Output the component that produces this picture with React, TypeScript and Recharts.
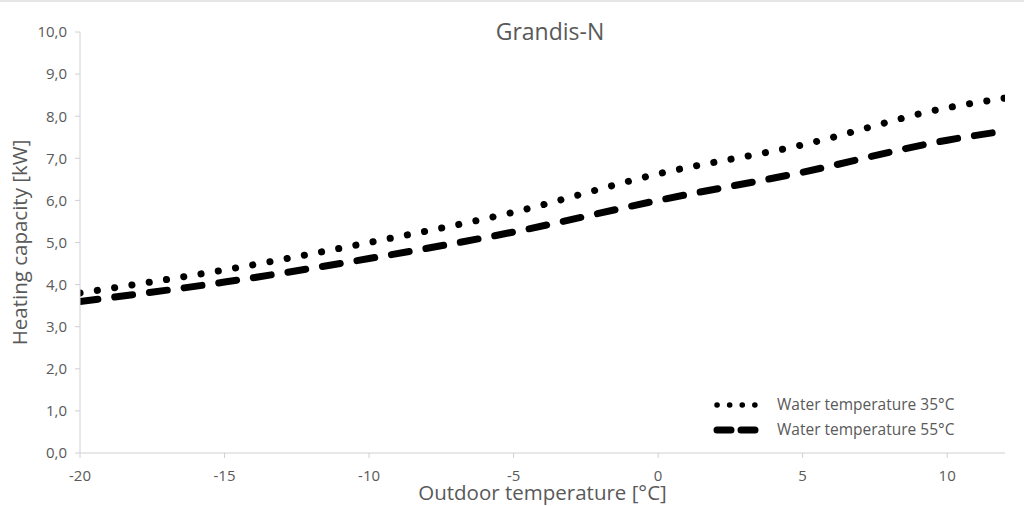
import React from "react";
import { LineChart, Line, XAxis, YAxis, Label } from "recharts";

// outdoor temperature [°C]
const outdoorTemps = [-20, -15, -10, -5, 0, 5, 10, 12];
// heating capacity [kW]
const water35 = [3.8, 4.35, 5.0, 5.72, 6.63, 7.32, 8.2, 8.43];
const water55 = [3.6, 4.06, 4.62, 5.25, 6.0, 6.67, 7.43, 7.65];

const xTicks = [-20, -15, -10, -5, 0, 5, 10];
const yTicks = [0, 1, 2, 3, 4, 5, 6, 7, 8, 9, 10];

const data = outdoorTemps.map((t, i) => ({
  t,
  w35: water35[i],
  w55: water55[i],
}));

const FONT = "'Open Sans', sans-serif";
const TEXT = "#595959";
const AXIS = "#d0d0d0";

const DOTTED = "0.1 17.4";
const DASHED = "18 17";

const LegendBox = () => (
  <div style={{ fontFamily: FONT, fontSize: 15.5, color: TEXT, lineHeight: "25px" }}>
    {[
      { label: "Water temperature 35°C", dotted: true },
      { label: "Water temperature 55°C", dotted: false },
    ].map((item) => (
      <div key={item.label} style={{ display: "flex", alignItems: "center" }}>
        <svg width={56} height={12} style={{ marginRight: 8 }}>
          <line
            x1={4}
            y1={6}
            x2={52}
            y2={6}
            stroke="#000"
            strokeWidth={item.dotted ? 5.5 : 7}
            strokeLinecap="round"
            strokeDasharray={item.dotted ? "0.1 12.5" : "14 10"}
          />
        </svg>
        <span>{item.label}</span>
      </div>
    ))}
  </div>
);

export default function App() {
  return (
    <div style={{ position: "absolute", left: 0, top: 0, width: 1024, height: 506, background: "#fff" }}>
      <div style={{ position: "absolute", left: 0, top: 0, width: 1024, height: 2, background: "#e6e6e6" }} />
      <div
        style={{
          position: "absolute",
          left: 450,
          top: 15,
          width: 200,
          textAlign: "center",
          fontFamily: FONT,
          fontSize: 23,
          color: TEXT,
        }}
      >
        Grandis-N
      </div>
      <LineChart
        width={1024}
        height={506}
        data={data}
        margin={{ top: 32, right: 19, bottom: 23, left: 20 }}
      >
        <XAxis
          dataKey="t"
          type="number"
          domain={[-20, 12]}
          ticks={xTicks}
          allowDataOverflow
          stroke={AXIS}
          tickSize={5}
          height={30}
          tick={{ fill: TEXT, fontSize: 15, fontFamily: FONT }}
          tickMargin={12}
        >
          <Label
            value="Outdoor temperature [°C]"
            position="insideBottom"
            offset={-17}
            style={{ fill: TEXT, fontSize: 20.5, fontFamily: FONT }}
          />
        </XAxis>
        <YAxis
          type="number"
          domain={[0, 10]}
          ticks={yTicks}
          width={60}
          stroke={AXIS}
          tickSize={5}
          tickMargin={8}
          tick={{ fill: TEXT, fontSize: 15, fontFamily: FONT }}
          tickFormatter={(v: number) => v.toFixed(1).replace(".", ",")}
        >
          <Label
            value="Heating capacity [kW]"
            angle={-90}
            position="insideLeft"
            offset={0}
            style={{ fill: TEXT, fontSize: 20.5, fontFamily: FONT, textAnchor: "middle" }}
          />
        </YAxis>
        <Line
          type="monotone"
          dataKey="w35"
          stroke="#000"
          strokeWidth={7}
          strokeLinecap="round"
          strokeDasharray={DOTTED}
          dot={false}
          activeDot={false}
          isAnimationActive={false}
        />
        <Line
          type="monotone"
          dataKey="w55"
          stroke="#000"
          strokeWidth={7}
          strokeLinecap="round"
          strokeDasharray={DASHED}
          dot={false}
          activeDot={false}
          isAnimationActive={false}
        />
      </LineChart>
      <div style={{ position: "absolute", left: 713, top: 392 }}>
        <LegendBox />
      </div>
    </div>
  );
}
